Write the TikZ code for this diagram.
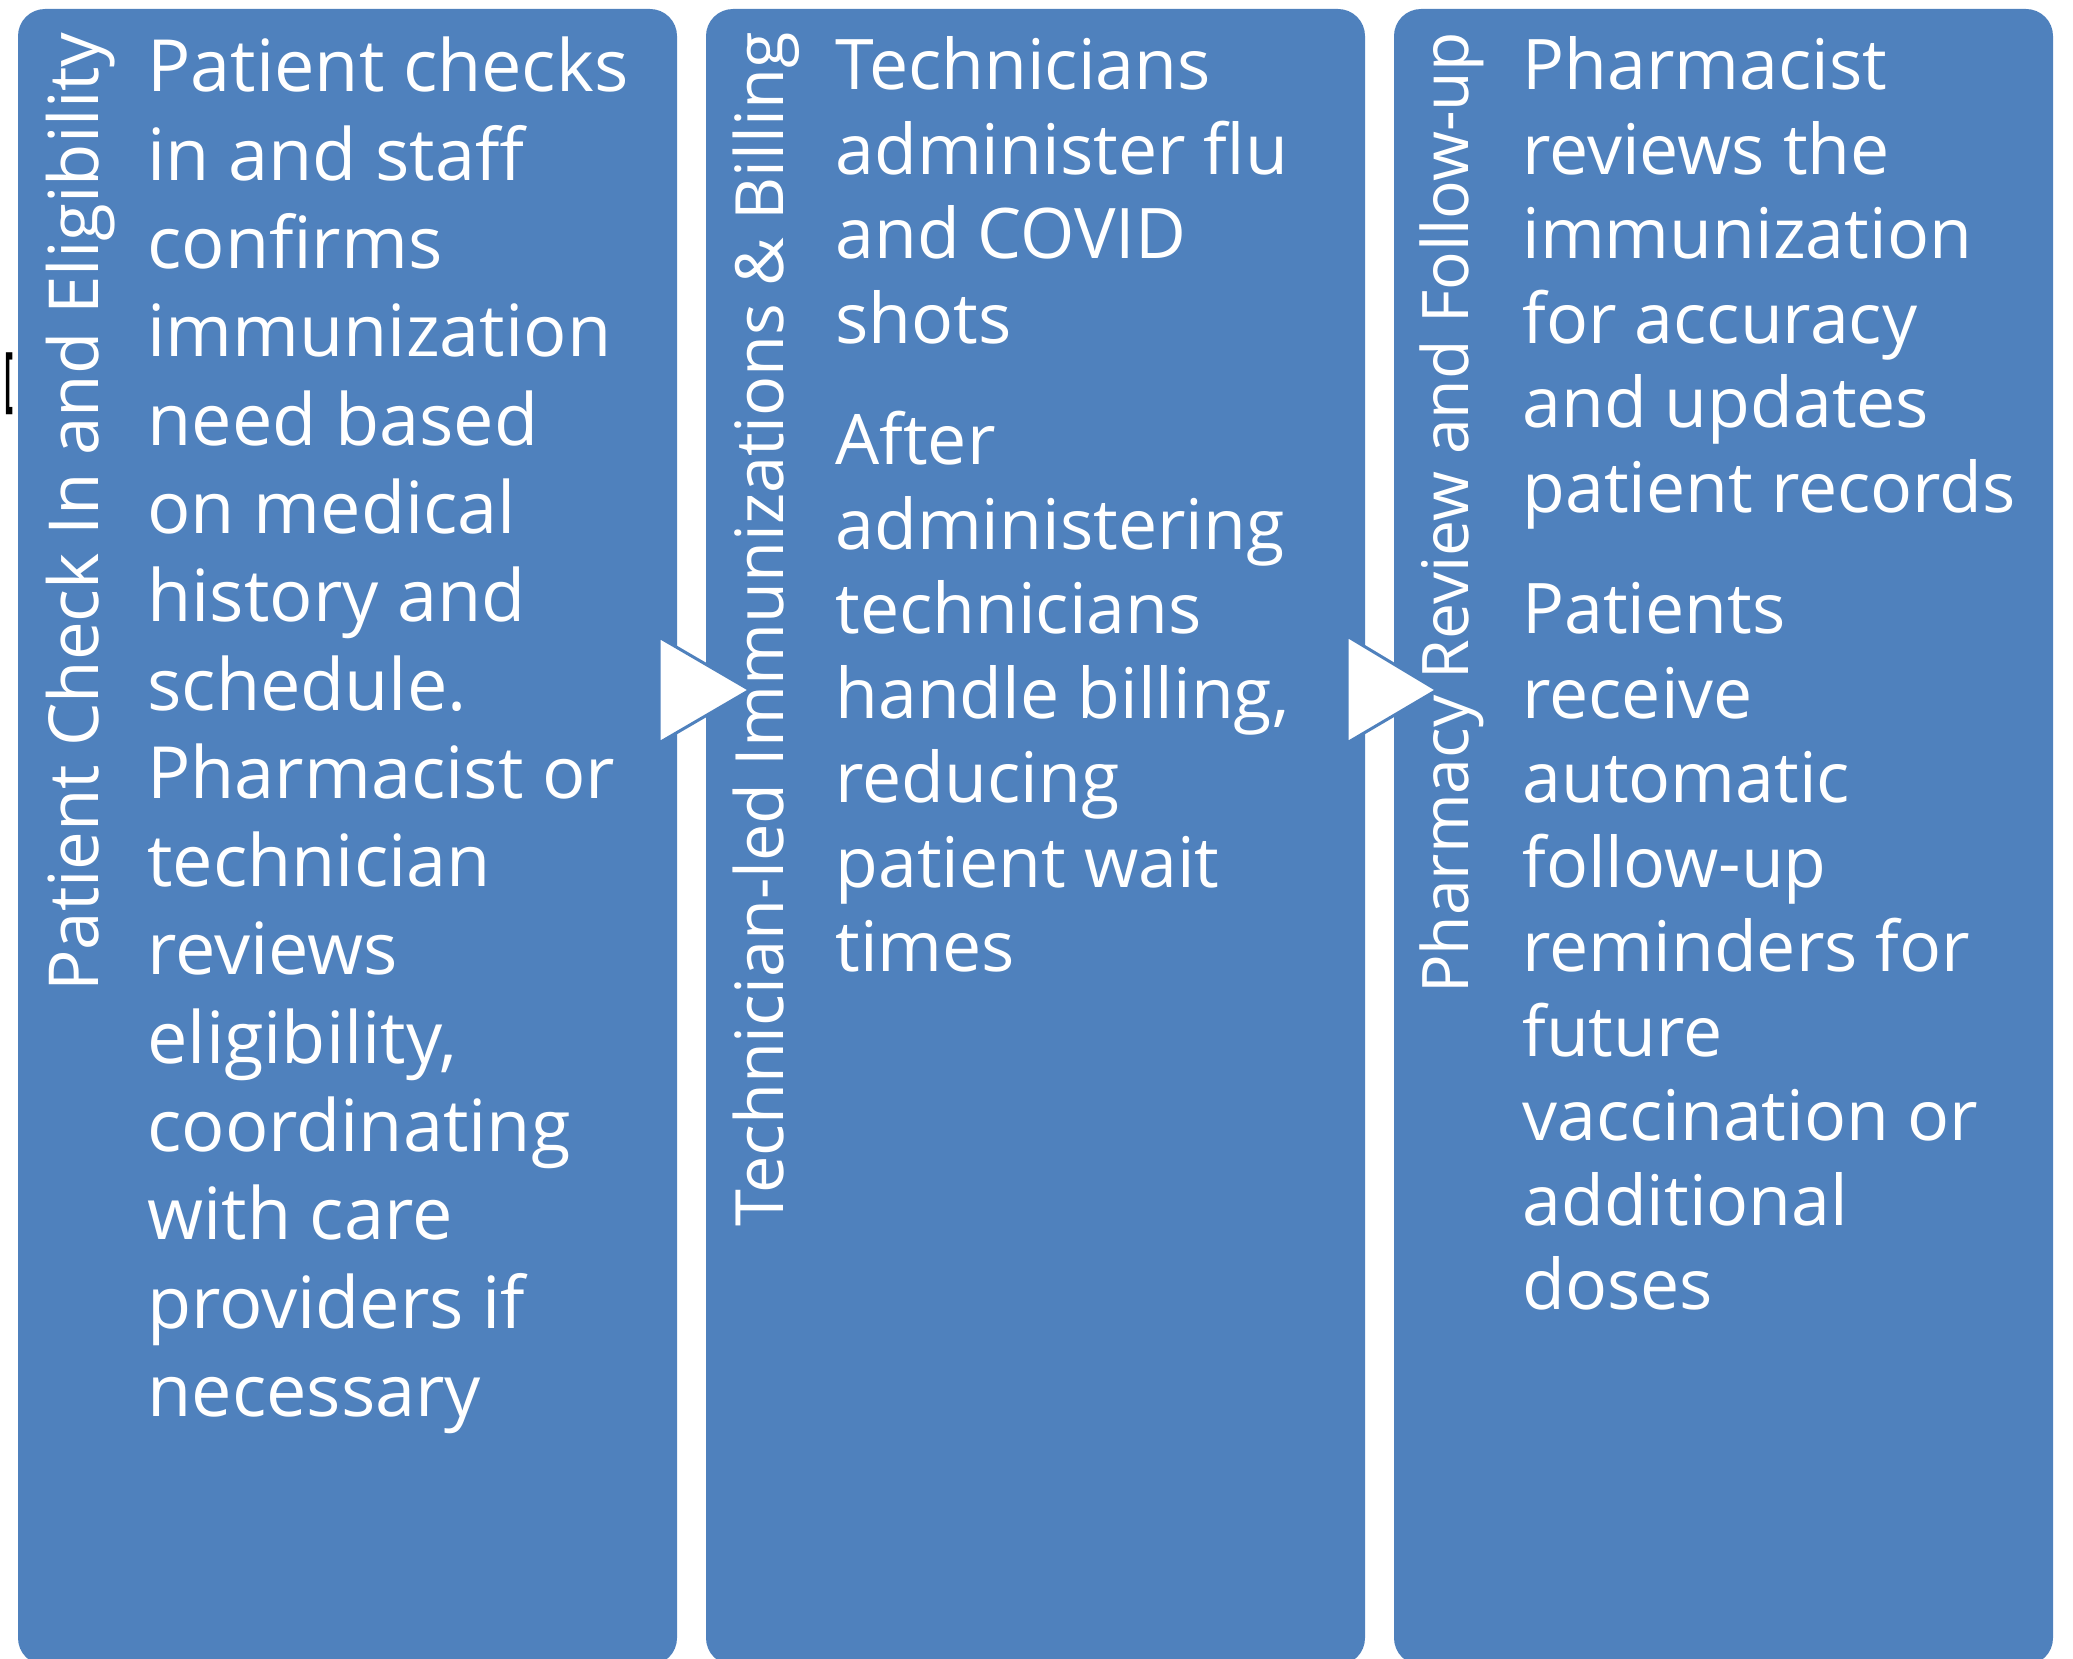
\documentclass[tikz,border=0pt]{standalone}
\usepackage{fontspec}
\setmainfont{Open Sans}
\definecolor{boxblue}{HTML}{4F81BD}
\tikzset{
  panel/.style={fill=boxblue, rounded corners=13.5pt},
  chevron/.style={fill=white, draw=boxblue, line width=1.5pt},
  title/.style={rotate=90, anchor=base east, inner sep=0pt, text=white},
  bodyA/.style={anchor=base west, inner sep=0pt, text=white, font=\fontsize{36}{44.15}\selectfont},
  bodyB/.style={anchor=base west, inner sep=0pt, text=white, font=\fontsize{34.9}{42.25}\selectfont}
}
\begin{document}
\begin{tikzpicture}[x=0.5pt, y=-0.5pt]
\useasboundingbox (0,0) rectangle (2073,1659);
% panels
\path[panel] (18,9) rectangle (677,1665);
\path[panel] (706,9) rectangle (1365,1665);
\path[panel] (1394,9) rectangle (2053,1665);
% chevrons
\filldraw[chevron] (659,637) -- (750,690) -- (659,743) -- cycle;
\filldraw[chevron] (1347,636) -- (1437,690) -- (1347,743) -- cycle;
% stray bracket
\node[inner sep=0pt, anchor=center] (br) at (9,384) {\resizebox*{4.5pt}{31pt}{\bfseries [}};
% titles
\node[title, font=\fontsize{34.5}{40}\selectfont] (t1) at (98,32) {Patient Check In and Eligibility};
\node[title, font=\fontsize{33.3}{40}\selectfont] (t2) at (783,32) {Technician-led Immunizations \& Billing};
\node[title, font=\fontsize{32.1}{40}\selectfont] (t3) at (1468,32) {Pharmacy Review and Follow-up};
% bodies
\node[bodyA] (b1) at (147,92) {\parbox[t]{320pt}{\raggedright
Patient checks\\
in and staff\\
confirms\\
immunization\\
need based\\
on medical\\
history and\\
schedule.\\
Pharmacist or\\
technician\\
reviews\\
eligibility,\\
coordinating\\
with care\\
providers if\\
necessary}};
\node[bodyB] (b2) at (835,90) {\parbox[t]{320pt}{\raggedright
Technicians\\
administer flu\\
and COVID\\
shots\\[18.5pt]
After\\
administering\\
technicians\\
handle billing,\\
reducing\\
patient wait\\
times}};
\node[bodyB] (b3) at (1522,90) {\parbox[t]{320pt}{\raggedright
Pharmacist\\
reviews the\\
immunization\\
for accuracy\\
and updates\\
patient records\\[18.5pt]
Patients\\
receive\\
automatic\\
follow-up\\
reminders for\\
future\\
vaccination or\\
additional\\
doses}};
\end{tikzpicture}
\end{document}
